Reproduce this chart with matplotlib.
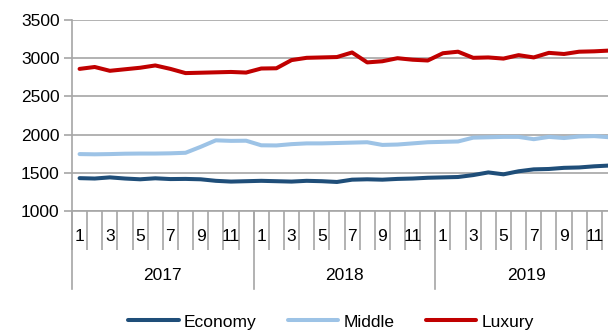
import matplotlib.pyplot as plt
from matplotlib.lines import Line2D

plt.rcParams['font.family'] = ['Liberation Sans', 'DejaVu Sans']

years = ['2017', '2018', '2019']
months = list(range(1, 13))

economy = [1430, 1425, 1440, 1425, 1415, 1428, 1418, 1420, 1415, 1395, 1385, 1390,
           1395, 1390, 1385, 1395, 1390, 1380, 1410, 1415, 1410, 1420, 1425, 1435,
           1440, 1445, 1470, 1505, 1480, 1520, 1545, 1550, 1565, 1570, 1585, 1595]
middle = [1745, 1742, 1745, 1750, 1752, 1752, 1755, 1762, 1840, 1925, 1918, 1920,
          1860, 1858, 1875, 1885, 1885, 1890, 1895, 1900, 1865, 1870, 1885, 1900,
          1905, 1910, 1960, 1965, 1970, 1970, 1940, 1970, 1955, 1975, 1980, 1965]
luxury = [2860, 2885, 2835, 2855, 2875, 2905, 2860, 2805, 2810, 2815, 2820, 2812,
          2865, 2868, 2975, 3005, 3010, 3015, 3075, 2945, 2960, 3000, 2980, 2970,
          3065, 3085, 3005, 3010, 2995, 3040, 3010, 3070, 3055, 3085, 3090, 3100]

series = [('Economy', economy, '#1F4E79'),
          ('Middle', middle, '#9DC3E6'),
          ('Luxury', luxury, '#C00000')]

grid_c = '#A6A6A6'
fs = 12.5

fig = plt.figure(figsize=(6.08, 3.33), dpi=100)
ax = fig.add_axes([72 / 608, 1 - 211 / 333, 545 / 608, 191 / 333])

x = list(range(len(economy)))
for name, vals, col in series:
    ax.plot(x, vals, color=col, lw=2.9, label=name,
            solid_joinstyle='round', solid_capstyle='round')

ax.set_ylim(1000, 3500)
ax.set_yticks(range(1000, 3501, 500))
ax.set_xlim(-0.5, len(economy) - 0.5)
ax.grid(axis='y', color=grid_c, lw=1.2)
ax.set_axisbelow(True)
for s in ['top', 'right']:
    ax.spines[s].set_visible(False)
for s in ['left', 'bottom']:
    ax.spines[s].set_color(grid_c)
    ax.spines[s].set_linewidth(1.2)
ax.tick_params(axis='y', length=6, width=1.2, color=grid_c, labelsize=fs, pad=3)

# month category ticks along the bottom
n = len(economy)
ax.set_xticks([i - 0.5 for i in range(n + 1)])
ax.set_xticklabels([])
ax.tick_params(axis='x', length=28, width=1.2, color=grid_c)

for i in range(n):
    m = months[i % 12]
    if m % 2 == 1:
        ax.text(i, -0.136, str(m), transform=ax.get_xaxis_transform(),
                ha='center', va='center', fontsize=fs)

# year separators and labels
for k, yr in enumerate(years):
    ax.add_line(Line2D([12 * k - 0.5] * 2, [0, -0.408], color=grid_c, lw=1.2,
                       transform=ax.get_xaxis_transform(), clip_on=False))
    ax.text(12 * k + 5.5, -0.34, yr, transform=ax.get_xaxis_transform(),
            ha='center', va='center', fontsize=fs)

fig.legend(loc='center', bbox_to_anchor=(331 / 608, 1 - 322 / 333), ncol=3,
           frameon=False, fontsize=fs, handlelength=2.9, handletextpad=0.3,
           columnspacing=1.8)

fig.savefig('out.png', dpi=100)
